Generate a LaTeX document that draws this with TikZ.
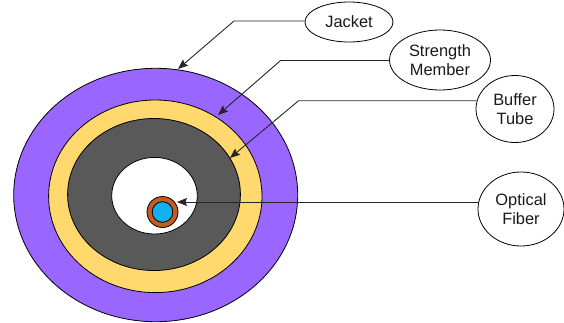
\documentclass[tikz,border=0pt]{standalone}
\usepackage{fontspec}
\setmainfont{Liberation Sans}
\usetikzlibrary{shapes.geometric,arrows.meta}
\definecolor{jacketc}{RGB}{153,102,255}
\definecolor{strengthc}{RGB}{255,217,110}
\definecolor{bufferc}{RGB}{89,89,89}
\definecolor{corec}{RGB}{20,176,235}
\definecolor{cladc}{RGB}{195,92,28}
\tikzset{
  label/.style={draw=black, line width=0.8pt, ellipse, inner sep=0pt, align=center,
    font=\fontsize{16.4}{19}\selectfont, text=black!90},
  ring/.style={draw=black, line width=0.8pt},
  arr/.style={draw=black!85, line width=0.9pt, -{Stealth[length=10pt,width=8pt,inset=1.5pt]}},
}
\begin{document}
\begin{tikzpicture}[x=1pt,y=-1pt]
\useasboundingbox (0,0) rectangle (564,322);
% cable cross section
\fill[ring, fill=jacketc] (155.7,195) ellipse [x radius=142, y radius=126.7];
\fill[ring, fill=strengthc] (155.3,196.3) ellipse [x radius=106.7, y radius=96.3];
\fill[ring, fill=bufferc] (154,194.5) ellipse [x radius=86.4, y radius=76];
\fill[ring, fill=white] (154.5,195.7) ellipse [x radius=42.8, y radius=38.3];
\fill[ring, fill=cladc] (162.5,212) circle [radius=15.5];
\fill[ring, fill=corec] (162.5,212) circle [radius=10.3];
% labels
\node[label, minimum width=88pt, minimum height=40pt] (jacket) at (349,22) {Jacket};
\node[label, minimum width=101pt, minimum height=60pt] (strength) at (440,60) {Strength\\Member};
\node[label, minimum width=78pt, minimum height=67pt] (buffer) at (515,109) {Buffer\\Tube};
\node[label, minimum width=86pt, minimum height=74pt] (optical) at (521,209) {Optical\\Fiber};
% bends and tips
\coordinate (jb) at (234,21);
\coordinate (jt) at (178,69);
\coordinate (sb) at (280.6,60.5);
\coordinate (st) at (218,115);
\coordinate (bb) at (298.6,100.7);
\coordinate (bt) at (230,158);
\coordinate (ot) at (177,202);
\draw[arr] (jacket.west |- jb) -- (jb) -- (jt);
\draw[arr] (strength.west |- sb) -- (sb) -- (st);
\draw[arr] ([xshift=1pt]buffer.west |- bb) -- (bb) -- (bt);
\draw[arr] ([xshift=1pt]optical.west |- ot) -- (ot);
\end{tikzpicture}
\end{document}
